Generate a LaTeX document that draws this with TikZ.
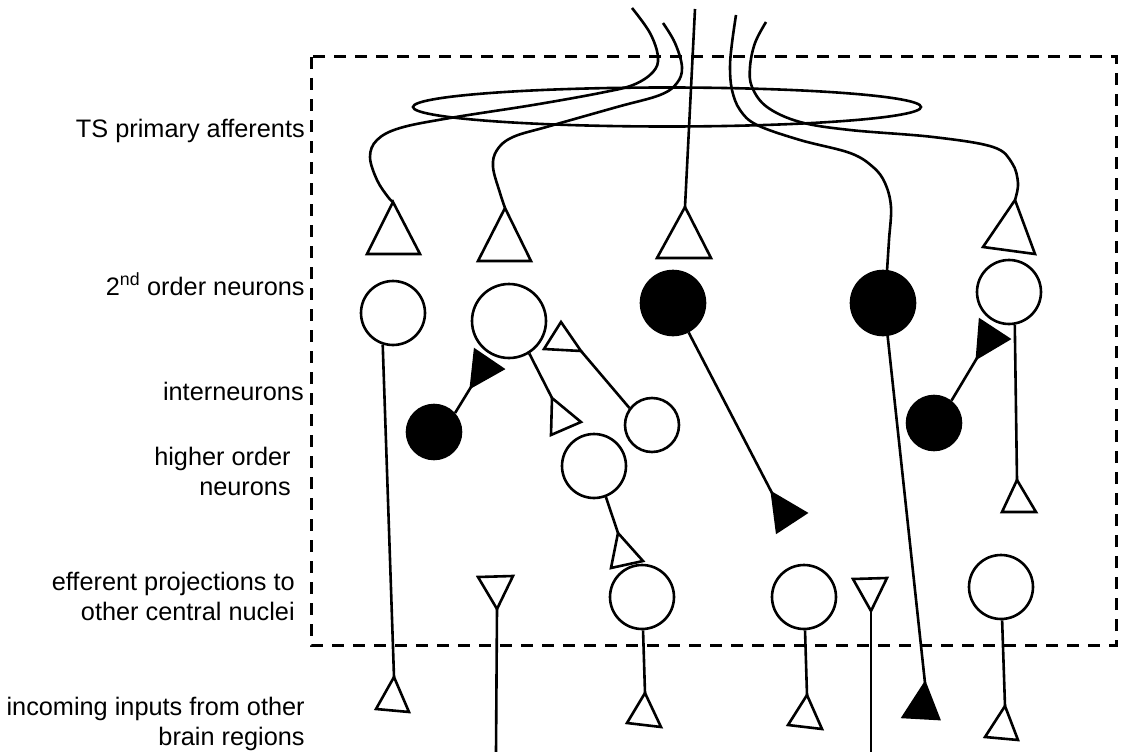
\documentclass[tikz,border=0pt]{standalone}
\usepackage{fontspec}
\setmainfont{Liberation Sans}
\begin{document}
\begin{tikzpicture}[x=1pt,y=-1pt,line width=2.6pt,line join=miter,
  cellw/.style={circle,draw,line width=2.6pt,inner sep=0pt,fill=white,minimum size=#1},
  cellb/.style={circle,draw,line width=2.6pt,inner sep=0pt,fill=black,minimum size=#1},
  tri/.style={draw,fill=white,line width=2.6pt},
  ftri/.style={draw,fill=black,line width=2.6pt},
  fiber/.style={draw,line width=2.6pt},
  boxline/.style={draw,line width=3pt,dash pattern=on 12pt off 9pt},
  lab/.style={font=\fontsize{25.3}{30}\selectfont,align=right,inner sep=0pt}]
\useasboundingbox (0,0) rectangle (1125,752);

% labels
\node[lab,anchor=base east] (l1) at (306,137) {TS primary afferents};
\node[lab,anchor=base east] (l2) at (306,295) {2\textsuperscript{nd} order neurons};
\node[lab,anchor=base east] (l3) at (305,400) {interneurons};
\node[lab,anchor=base east] (l4) at (292,495) {higher order\\neurons};
\node[lab,anchor=base east] (l5) at (296,620) {efferent projections to\\other central nuclei};
\node[lab,anchor=base east] (l6) at (306,745) {incoming inputs from other\\brain regions};

% dashed region
\draw[boxline] (311,57) rectangle (1116,645);

% bundle ellipse
\draw (667,107) ellipse [x radius=254pt, y radius=19.5pt];

% cells
\node[cellw=64pt] (c1) at (393,313) {};
\node[cellw=74pt] (c2) at (509,321) {};
\node[cellb=64pt] (c3) at (673,303) {};
\node[cellb=64pt] (c4) at (883,303) {};
\node[cellw=64pt] (c5) at (1009,292) {};
\node[cellb=54pt] (i1) at (434,432) {};
\node[cellb=54pt] (i2) at (934,423) {};
\node[cellw=54pt] (h1) at (652,425) {};
\node[cellw=64pt] (h2) at (594,466) {};
\node[cellw=64pt] (e1) at (642,597) {};
\node[cellw=64pt] (e2) at (804,597) {};
\node[cellw=64pt] (e3) at (1001,587) {};

% top synapses
\coordinate (t1) at (393,202);
\coordinate (t2) at (505,208);
\coordinate (t3) at (685,207);
\coordinate (t5) at (1015,200);
\draw[tri] (t1) -- (367,254) -- (420,254) -- cycle;
\draw[tri] (t2) -- (478,261) -- (531,261) -- cycle;
\draw[tri] (t3) -- (657,258) -- (711,258) -- cycle;
\draw[tri] (t5) -- (983,247) -- (1035,254) -- cycle;

% afferent fibres
\draw[fiber] plot[smooth,tension=0.6] coordinates {(632,8) (650,33) (658,57) (653,72) (633,85) (600,93) (533,105) (450,118) (400,128) (377,140) (370,157) (377,180) (388,197) (t1)};
\draw[fiber] plot[smooth,tension=0.6] coordinates {(663,23) (675,43) (682,67) (677,83) (660,95) (617,107) (550,126) (513,137) (497,150) (493,167) (500,193) (t2)};
\draw[fiber] (695,9) -- (t3);
\draw[fiber] plot[smooth,tension=0.6] coordinates {(736,15) (732,43) (730,67) (732,90) (740,110) (757,125) (800,140) (850,153) (873,167) (885,183) (891,207) (889,240) (887,271)};
\draw[fiber] plot[smooth,tension=0.6] coordinates {(766,22) (755,43) (750,67) (752,87) (767,107) (800,122) (850,130) (933,137) (993,147) (1012,163) (1018,183) (t5)};

% interneuron synapses
\coordinate (f1) at (471,387);
\draw[ftri] (475,350) -- (503,369) -- (f1) -- cycle;
\draw (i1.42) -- (f1);
\coordinate (f2) at (977,358);
\draw[ftri] (980,320) -- (1009,339) -- (f2) -- cycle;
\draw (i2.52) -- (f2);

% second-order axons
\coordinate (o1) at (552,398);
\draw[tri] (o1) -- (581,422) -- (551,435) -- cycle;
\draw (c2.302) -- (o1);
\coordinate (o2) at (581,351);
\draw[tri] (561,322) -- (544,349) -- (o2) -- cycle;
\draw (h1.143) -- (o2);
\coordinate (o3) at (618,533);
\draw[tri] (o3) -- (643,561) -- (611,568) -- cycle;
\draw (h2.291) -- (o3);
\coordinate (f3) at (772,493);
\draw[ftri] (f3) -- (806,513) -- (777,532) -- cycle;
\draw (c3.298) -- (f3);
\coordinate (f4) at (925,683);
\draw[ftri] (f4) -- (903,717) -- (939,719) -- cycle;
\draw (c4.278) -- (f4);
\coordinate (o4) at (394,677);
\draw[tri] (o4) -- (376,709) -- (409,712) -- cycle;
\draw (c1.252) -- (o4);
\coordinate (o5) at (1017,480);
\draw[tri] (o5) -- (1002,512) -- (1036,512) -- cycle;
\draw (c5.280) -- (o5);

% efferent row
\coordinate (d1) at (497,609);
\coordinate (d1e) at (496,752);
\draw[tri] (478,577) -- (513,576) -- (d1) -- cycle;
\draw (d1) -- (d1e);
\coordinate (d2) at (871,611);
\coordinate (d2e) at (871,752);
\draw[tri] (853,579) -- (887,578) -- (d2) -- cycle;
\draw (d2) -- (d2e);
\coordinate (g1) at (645,693);
\draw[tri] (g1) -- (627,723) -- (661,727) -- cycle;
\draw (e1) -- (g1);
\coordinate (g2) at (807,695);
\draw[tri] (g2) -- (788,725) -- (822,729) -- cycle;
\draw (e2) -- (g2);
\coordinate (g3) at (1005,706);
\draw[tri] (g3) -- (985,737) -- (1018,740) -- cycle;
\draw (e3) -- (g3);
\end{tikzpicture}
\end{document}
